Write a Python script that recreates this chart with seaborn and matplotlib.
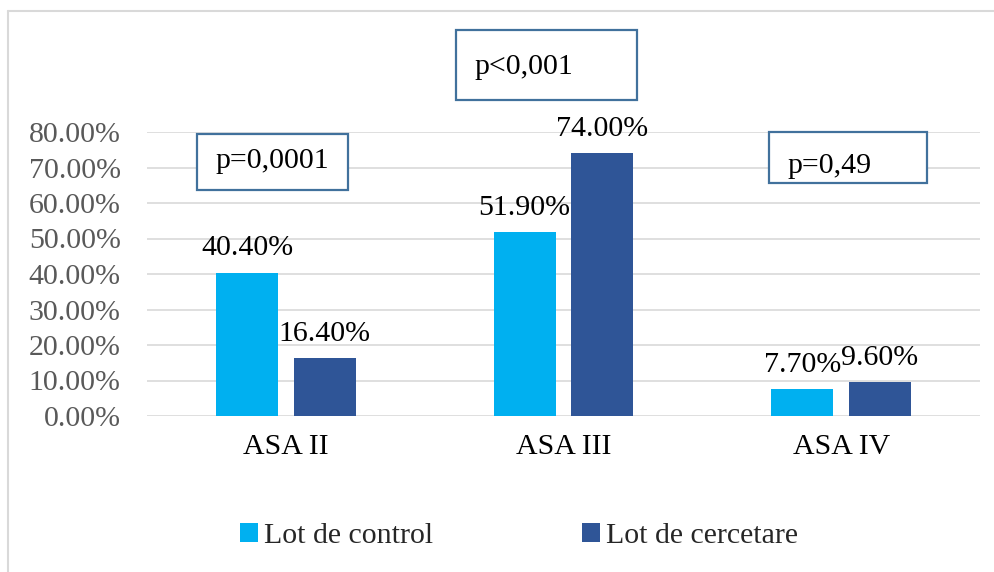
import matplotlib
matplotlib.use("Agg")
import matplotlib.pyplot as plt
import seaborn as sns
import pandas as pd
from matplotlib.patches import Rectangle
from matplotlib.lines import Line2D

categories = ["ASA II", "ASA III", "ASA IV"]
series_names = ["Lot de control", "Lot de cercetare"]
control = [0.404, 0.519, 0.077]
cercetare = [0.164, 0.740, 0.096]
yticks = [0.0, 0.1, 0.2, 0.3, 0.4, 0.5, 0.6, 0.7, 0.8]
p_labels = ["p=0,0001", "p<0,001", "p=0,49"]
colors = ["#00B0F0", "#2F5597"]

df = pd.DataFrame({
    "cat": categories * 2,
    "group": [series_names[0]] * 3 + [series_names[1]] * 3,
    "val": control + cercetare,
})

sns.set_theme(style="white")
plt.rcParams["font.family"] = ["Liberation Serif", "DejaVu Serif"]

W, H = 994, 572
fig = plt.figure(figsize=(W / 100, H / 100), dpi=100)
ax = fig.add_axes([147 / W, 1 - 416 / H, 833 / W, 284 / H])

sns.barplot(data=df, x="cat", y="val", hue="group", order=categories,
            hue_order=series_names, palette=colors, width=0.56, gap=0.2,
            saturation=1, ax=ax, legend=True, zorder=3, linewidth=0,
            edgecolor="none")

ax.set_ylim(0, 0.8)
ax.set_xlim(-0.5, 2.5)
ax.set_yticks(yticks)
ax.set_yticklabels([f"{v:.2%}" for v in yticks])
ax.set_xlabel("")
ax.set_ylabel("")
for s in ax.spines.values():
    s.set_visible(False)
ax.grid(axis="y", color="#D9D9D9", linewidth=1.2, zorder=0)
ax.set_axisbelow(True)
ax.tick_params(axis="y", length=0, pad=19, labelsize=21.5, labelcolor="#595959")
ax.tick_params(axis="x", length=0, pad=13, labelsize=21.5, labelcolor="black")

for cont, vals in zip(ax.containers, [control, cercetare]):
    ax.bar_label(cont, labels=[f"{v:.2%}" for v in vals], padding=8,
                 fontsize=21.5, color="black")

leg = ax.get_legend()
handles = leg.legend_handles
leg.remove()
fig.legend(handles, series_names, loc="center", bbox_to_anchor=(519 / W, 1 - 536 / H),
           ncol=2, frameon=False, fontsize=21.5, handlelength=0.6, handleheight=0.6,
           handletextpad=0.2, columnspacing=5.0, borderaxespad=0)

# p-value annotation boxes (pixel geometry)
boxes = [(197, 134, 348, 190, 215, 168),
         (456, 30, 637, 100, 474, 74),
         (769, 132, 927, 183, 787, 173)]
for (x0, y0, x1, y1, tx, ty), lab in zip(boxes, p_labels):
    fig.add_artist(Rectangle((x0 / W, 1 - y1 / H), (x1 - x0) / W, (y1 - y0) / H,
                             transform=fig.transFigure, facecolor="white",
                             edgecolor="#41719C", linewidth=1.6, zorder=5))
    fig.text(tx / W, 1 - ty / H, lab, ha="left", va="baseline", fontsize=21.5,
             color="black", zorder=6)

# outer chart border (top and left visible)
fig.add_artist(Line2D([8 / W, 8 / W], [0, 1 - 11 / H], transform=fig.transFigure,
                      color="#D9D9D9", linewidth=1.5))
fig.add_artist(Line2D([8 / W, 1], [1 - 11 / H, 1 - 11 / H], transform=fig.transFigure,
                      color="#D9D9D9", linewidth=1.5))

fig.savefig("out.png", dpi=100)
